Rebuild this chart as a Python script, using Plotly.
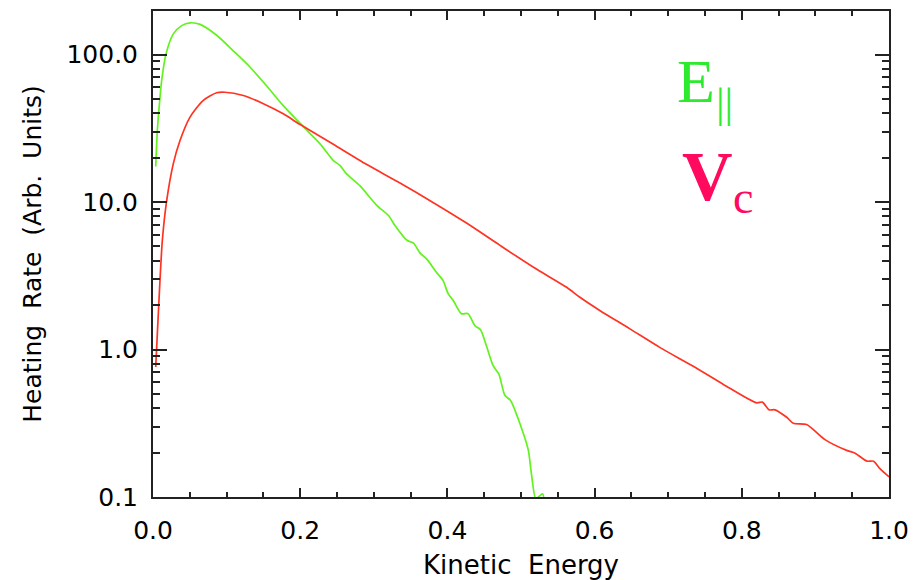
import plotly.graph_objects as go

# ---- data ----
green_x = [0.0037, 0.0059, 0.0095, 0.0118, 0.0177, 0.0276, 0.039, 0.0503, 0.064, 0.0865,
           0.109, 0.132, 0.154, 0.177, 0.204, 0.227, 0.245, 0.254, 0.263, 0.281,
           0.304, 0.320, 0.329, 0.345, 0.354, 0.363, 0.372, 0.385, 0.394, 0.401,
           0.408, 0.419, 0.428, 0.4375, 0.445, 0.453, 0.462, 0.470, 0.478, 0.486,
           0.499, 0.510, 0.5136, 0.520, 0.5236, 0.5295, 0.533]
green_y = [17.4, 30.5, 51, 66.7, 101, 138, 157, 164, 160, 135,
           106, 82, 61.6, 45, 32.5, 24.8, 19.1, 17.7, 15.5, 12.9,
           9.5, 8.1, 6.9, 5.5, 5.26, 4.5, 4.1, 3.34, 2.94, 2.39,
           2.15, 1.75, 1.75, 1.45, 1.36, 1.06, 0.78, 0.68, 0.49, 0.45,
           0.31, 0.207, 0.151, 0.097, 0.1, 0.105, 0.07]

red_x = [0.0037, 0.0059, 0.0095, 0.0127, 0.0186, 0.0276, 0.0367, 0.0503, 0.068, 0.0865,
         0.0978, 0.1227, 0.15, 0.177, 0.2, 0.245, 0.29, 0.335, 0.381, 0.426,
         0.471, 0.517, 0.562, 0.58, 0.607, 0.648, 0.689, 0.734, 0.775, 0.82,
         0.828, 0.837, 0.845, 0.861, 0.87, 0.888, 0.913, 0.9425, 0.954, 0.97,
         0.979, 0.988, 1.0]
red_y = [0.76, 1.28, 2.94, 5.5, 10.2, 18.2, 26.1, 37.6, 48.7, 55,
         55.5, 52.7, 46.4, 39.6, 33.5, 24.6, 18.0, 13.5, 9.9, 7.2,
         5.1, 3.61, 2.64, 2.26, 1.84, 1.38, 1.03, 0.77, 0.58, 0.435,
         0.44, 0.39, 0.39, 0.347, 0.316, 0.31, 0.245, 0.207, 0.198, 0.175,
         0.175, 0.155, 0.137]

y_tickvals = [0.1, 1, 10, 100]
y_ticktext = ["0.1", "1.0", "10.0", "100.0"]
y_minor = [m * 10.0 ** e for e in (-1, 0, 1, 2) for m in range(2, 10)]

GREEN_LINE = "#62F21E"
RED_LINE = "#FF3322"
GREEN_TXT = "#2EEA2E"
PINK_TXT = "#FF0A5E"
AX = "#222222"
FONT = "DejaVu Sans"

fig = go.Figure()
fig.add_trace(go.Scatter(x=green_x, y=green_y, mode="lines",
                         line=dict(color=GREEN_LINE, width=1.7, shape="spline", smoothing=0.7)))
fig.add_trace(go.Scatter(x=red_x, y=red_y, mode="lines",
                         line=dict(color=RED_LINE, width=1.7, shape="spline", smoothing=0.7)))

L, R, T, B = 153, 25, 11, 83
W, H = 914, 580
pw, ph = W - L - R, H - T - B


def px(xp):
    return (xp - L) / pw


def py(yp):
    return (H - B - yp) / ph


fig.update_layout(
    width=W, height=H,
    margin=dict(l=L, r=R, t=T, b=B),
    plot_bgcolor="white", paper_bgcolor="white",
    showlegend=False,
    xaxis=dict(
        range=[0, 1], tick0=0, dtick=0.2, tickformat=".1f",
        ticks="inside", ticklen=9, tickwidth=2, tickcolor=AX,
        showline=True, linewidth=2, linecolor=AX, mirror="allticks",
        showgrid=False, zeroline=False, automargin=False,
        minor=dict(ticks="inside", ticklen=5, dtick=0.05, tick0=0,
                   tickwidth=2, tickcolor=AX, showgrid=False),
        tickfont=dict(family=FONT, size=25, color="black"),
        ticklabelstandoff=10,
        title=dict(text="Kinetic  Energy", font=dict(family=FONT, size=26, color="black"),
                   standoff=12),
    ),
    yaxis=dict(
        type="log", range=[-1, 2.295],
        tickvals=y_tickvals, ticktext=y_ticktext,
        ticks="inside", ticklen=14, tickwidth=2, tickcolor=AX,
        showline=True, linewidth=2, linecolor=AX, mirror="allticks",
        showgrid=False, zeroline=False, automargin=False,
        minor=dict(ticks="inside", ticklen=7, tickvals=y_minor,
                   tickwidth=2, tickcolor=AX, showgrid=False),
        tickfont=dict(family=FONT, size=25, color="black"),
        ticklabelstandoff=8,
        title=dict(text="Heating  Rate  (Arb.  Units)",
                   font=dict(family=FONT, size=25, color="black"), standoff=18),
    ),
)

ann = [
    ("E", 696, 81.5, 62, GREEN_TXT, False),
    ("||", 724.5, 102.5, 43, GREEN_TXT, False),
    ("V", 707, 176.5, 70, PINK_TXT, True),
    ("c", 742.5, 198, 46, PINK_TXT, False),
]
for txt, x0, y0, sz, col, bold in ann:
    fig.add_annotation(
        x=px(x0), y=py(y0), xref="paper", yref="paper",
        xanchor="center", yanchor="middle", showarrow=False,
        text=txt, borderpad=0,
        font=dict(family="Liberation Serif", size=sz, color=col,
                  weight="bold" if bold else "normal"),
    )

fig.write_html("out.html")
